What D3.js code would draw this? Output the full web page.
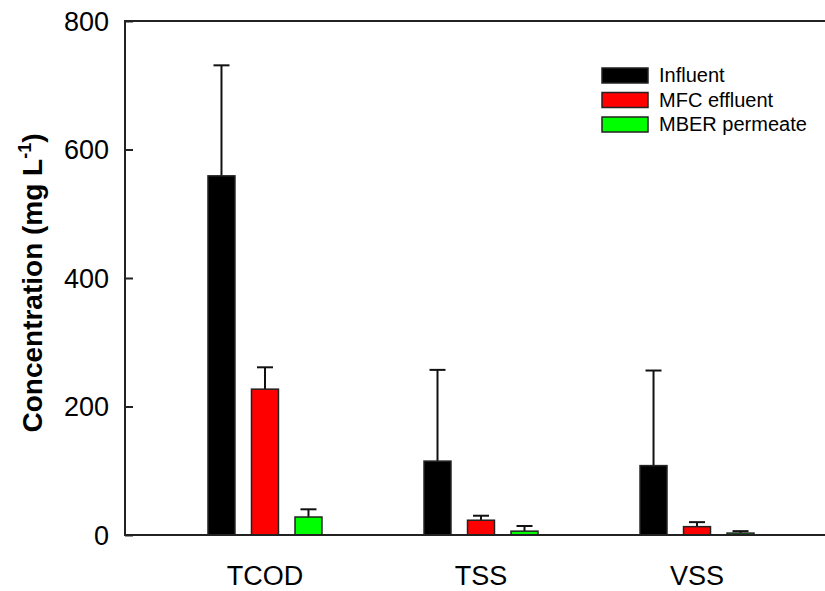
<!DOCTYPE html>
<html>
<head>
<meta charset="utf-8">
<script src="https://cdn.jsdelivr.net/npm/d3@7"></script>
<style>
  body { margin: 0; background: #fff; }
  text { font-family: "Liberation Sans", Arial, sans-serif; }
</style>
</head>
<body>
<script>
// values
var categories = ["TCOD", "TSS", "VSS"];
var seriesNames = ["Influent", "MFC effluent", "MBER permeate"];
var influent = [559, 115, 108];
var influentErr = [172, 142, 148];
var mfcEffluent = [227, 23, 13];
var mfcEffluentErr = [34, 7, 7];
var mberPermeate = [28, 6, 3];
var mberPermeateErr = [12, 8, 3];
var yTicks = [0, 200, 400, 600, 800];

var colors = ["#000000", "#ff0000", "#00ff00"];

var width = 825, height = 591;
var plotLeft = 125, plotRight = 837, plotTop = 21, plotBottom = 535;

var svg = d3.select("body").append("svg")
    .attr("width", width)
    .attr("height", height);

var x = d3.scaleBand()
    .domain(categories)
    .range([plotLeft, plotRight])
    .paddingInner(0)
    .paddingOuter(0.148);

var xs = d3.scaleBand()
    .domain(seriesNames)
    .range([-65.25, 65.25])
    .paddingInner(0.38)
    .paddingOuter(0.19);

var y = d3.scaleLinear()
    .domain([0, 800])
    .range([plotBottom, plotTop]);

var data = [];
for (var i = 0; i < categories.length; i++) {
    var vals = [influent[i], mfcEffluent[i], mberPermeate[i]];
    var errs = [influentErr[i], mfcEffluentErr[i], mberPermeateErr[i]];
    for (var j = 0; j < seriesNames.length; j++) {
        data.push({cat: categories[i], series: seriesNames[j], value: vals[j], err: errs[j], color: colors[j]});
    }
}

function barX(d) {
    return x(d.cat) + x.bandwidth() / 2 + xs(d.series);
}

// error bars (drawn first, bars cover the bottom part)
var eb = svg.append("g").attr("stroke", "#111").attr("stroke-width", 2);
eb.selectAll(".stem").data(data).enter().append("line")
    .attr("x1", function(d) { return barX(d) + xs.bandwidth() / 2; })
    .attr("x2", function(d) { return barX(d) + xs.bandwidth() / 2; })
    .attr("y1", function(d) { return y(d.value); })
    .attr("y2", function(d) { return y(d.value + d.err); });
eb.selectAll(".cap").data(data).enter().append("line")
    .attr("x1", function(d) { return barX(d) + xs.bandwidth() / 2 - 8; })
    .attr("x2", function(d) { return barX(d) + xs.bandwidth() / 2 + 8; })
    .attr("y1", function(d) { return y(d.value + d.err); })
    .attr("y2", function(d) { return y(d.value + d.err); });

svg.append("g").selectAll("rect").data(data).enter().append("rect")
    .attr("x", function(d) { return barX(d); })
    .attr("y", function(d) { return y(d.value); })
    .attr("width", xs.bandwidth())
    .attr("height", function(d) { return y(0) - y(d.value); })
    .attr("fill", function(d) { return d.color; })
    .attr("stroke", "#222")
    .attr("stroke-width", 1.5);

// y axis, ticks inward
var yAxis = svg.append("g")
    .attr("transform", "translate(" + plotLeft + ",0)")
    .call(d3.axisRight(y).tickValues(yTicks).tickSize(8).tickFormat(""));
yAxis.select(".domain").remove();
yAxis.selectAll("line").attr("stroke", "#222").attr("stroke-width", 2);

svg.append("g").selectAll("text").data(yTicks).enter().append("text")
    .attr("x", plotLeft - 16)
    .attr("y", function(d) { return y(d) + 9.5; })
    .attr("text-anchor", "end")
    .attr("font-size", 27)
    .text(function(d) { return d; });

// frame: left, top and bottom lines
svg.append("path")
    .attr("d", "M" + plotRight + "," + plotTop + "H" + plotLeft + "V" + plotBottom + "H" + plotRight)
    .attr("fill", "none")
    .attr("stroke", "#222")
    .attr("stroke-width", 2);

// category labels
svg.append("g").selectAll("text").data(categories).enter().append("text")
    .attr("x", function(d) { return x(d) + x.bandwidth() / 2; })
    .attr("y", 585)
    .attr("text-anchor", "middle")
    .attr("font-size", 27)
    .text(function(d) { return d; });

// y label
var yl = svg.append("text")
    .attr("transform", "translate(42,283) rotate(-90)")
    .attr("text-anchor", "middle")
    .attr("font-size", 28)
    .attr("font-weight", "bold");
yl.append("tspan").text("Concentration (mg L");
yl.append("tspan").attr("font-size", 18).attr("dy", -11).text("-1");
yl.append("tspan").attr("dy", 11).text(")");

// legend
var legend = svg.append("g").attr("transform", "translate(602,68)");
var li = legend.selectAll("g").data(seriesNames).enter().append("g")
    .attr("transform", function(d, i) { return "translate(0," + i * 24.5 + ")"; });
li.append("rect")
    .attr("width", 46)
    .attr("height", 15)
    .attr("fill", function(d, i) { return colors[i]; })
    .attr("stroke", "#222")
    .attr("stroke-width", 1.5);
li.append("text")
    .attr("x", 57)
    .attr("y", 14)
    .attr("font-size", 20)
    .text(function(d) { return d; });
</script>
</body>
</html>
